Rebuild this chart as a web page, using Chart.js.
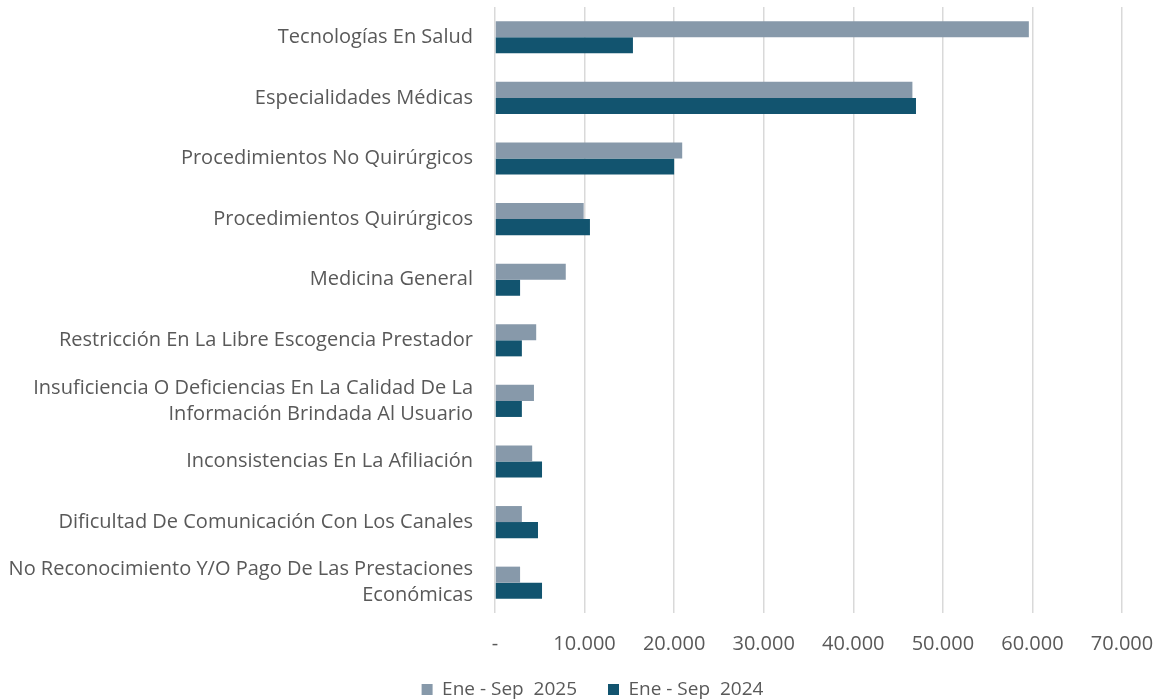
<!DOCTYPE html>
<html lang="es">
<head>
<meta charset="utf-8">
<title>Motivos - Ene-Sep 2025 vs 2024</title>
<script src="https://cdn.jsdelivr.net/npm/chart.js@4/dist/chart.umd.min.js"></script>
<style>
    html, body { margin: 0; padding: 0; background: #ffffff; }
    #wrap { width: 1153px; height: 699px; position: relative; }
</style>
</head>
<body>
<div id="wrap"><canvas id="motivosChart"></canvas></div>
<script>
// categorias (de arriba a abajo)
const categorias = [
    'Tecnologías En Salud',
    'Especialidades Médicas',
    'Procedimientos No Quirúrgicos',
    'Procedimientos Quirúrgicos',
    'Medicina General',
    'Restricción En La Libre Escogencia Prestador',
    ['Insuficiencia O Deficiencias En La Calidad De La', 'Información Brindada Al Usuario'],
    'Inconsistencias En La Afiliación',
    'Dificultad De Comunicación Con Los Canales',
    ['No Reconocimiento Y/O Pago De Las Prestaciones', 'Económicas']
];

const series2025 = [59600, 46600, 20900, 9900, 7900, 4600, 4350, 4150, 3000, 2800];
const series2024 = [15400, 47000, 20000, 10600, 2800, 3000, 3000, 5250, 4800, 5250];

const nombresSeries = ['Ene - Sep  2025', 'Ene - Sep  2024'];
const ticksX = [0, 10000, 20000, 30000, 40000, 50000, 60000, 70000];

const textColor = '#595959';
const fontFamily = "'Open Sans', 'Liberation Sans', sans-serif";
const legendPadding = 31;
const legendFont = 19;

function formatMiles(v) {
    if (v === 0) return '-';
    return String(v).replace(/\B(?=(\d{3})+(?!\d))/g, '.');
}

// ajusta la leyenda: texto centrado en y=689 y un poco a la derecha
const legendShift = {
    id: 'legendShift',
    beforeDraw(chart) {
        const lg = chart.legend;
        if (!lg) return;
        const targetTop = 689.5 - legendFont / 2 - legendPadding;
        const dy = targetTop - lg.top;
        lg.top += dy;
        lg.bottom += dy;
        lg.left += 16;
        lg.right += 16;
    }
};

const ctx = document.getElementById('motivosChart').getContext('2d');
const motivosChart = new Chart(ctx, {
    type: 'bar',
    data: {
        labels: categorias,
        datasets: [
            {
                label: nombresSeries[0],
                data: series2025,
                backgroundColor: '#8799aa',
                borderWidth: 0
            },
            {
                label: nombresSeries[1],
                data: series2024,
                backgroundColor: '#12546f',
                borderWidth: 0
            }
        ]
    },
    plugins: [legendShift],
    options: {
        indexAxis: 'y',
        responsive: true,
        maintainAspectRatio: false,
        animation: false,
        categoryPercentage: 0.53,
        barPercentage: 1,
        layout: {
            padding: { top: 7, left: 0, right: 0, bottom: -12 }
        },
        scales: {
            x: {
                min: ticksX[0],
                max: ticksX[ticksX.length - 1],
                afterBuildTicks: function(scale) {
                    scale.ticks = ticksX.map(v => ({ value: v }));
                },
                afterFit: function(scale) {
                    // alto fijo del eje, sin margen extra a la derecha
                    scale.height = 38;
                    scale.paddingLeft = 0;
                    scale.paddingRight = 31;
                },
                grid: {
                    color: '#d9d9d9',
                    lineWidth: 1.5,
                    drawTicks: false
                },
                border: { display: false },
                ticks: {
                    color: textColor,
                    padding: 19,
                    font: { family: fontFamily, size: 20 },
                    callback: function(value) { return formatMiles(value); }
                }
            },
            y: {
                grid: { display: false, drawTicks: false },
                border: { display: false },
                afterFit: function(scale) {
                    scale.width = 495;
                    scale.paddingTop = 0;
                    scale.paddingBottom = 0;
                },
                ticks: {
                    color: textColor,
                    padding: 22,
                    autoSkip: false,
                    font: { family: fontFamily, size: 20, lineHeight: 1.3 }
                }
            }
        },
        plugins: {
            legend: {
                position: 'bottom',
                labels: {
                    color: textColor,
                    boxWidth: 11,
                    boxHeight: 11,
                    padding: legendPadding,
                    font: { family: fontFamily, size: legendFont }
                }
            },
            tooltip: { enabled: false }
        }
    }
});
</script>
</body>
</html>
